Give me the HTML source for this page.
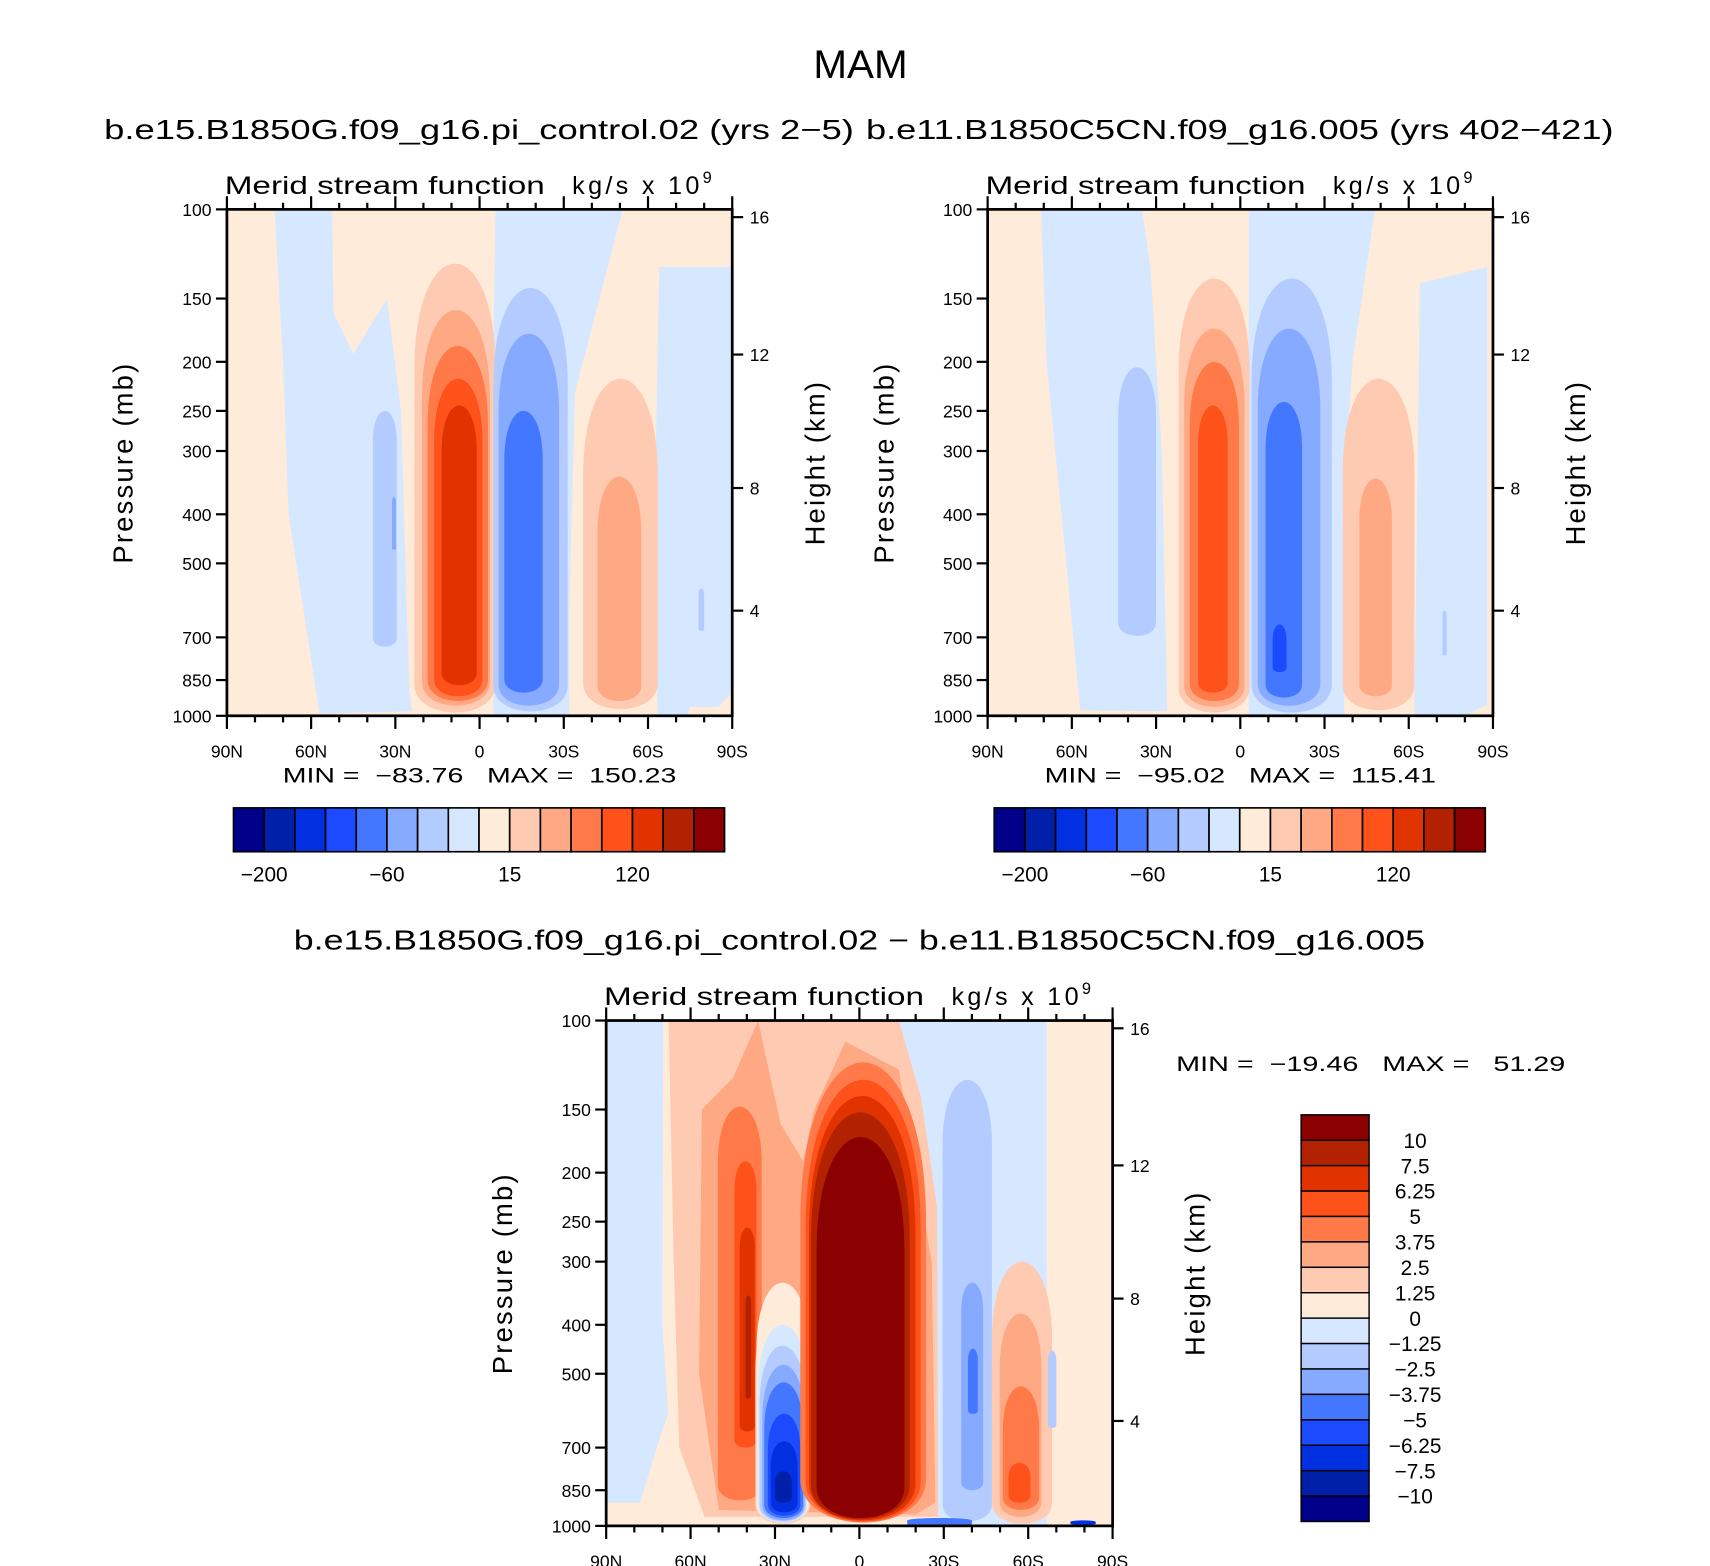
<!DOCTYPE html>
<html><head><meta charset="utf-8"><style>
html,body{margin:0;padding:0;background:#fff;}
svg{display:block;font-family:"Liberation Sans",sans-serif;}
</style></head><body>
<svg id="fig" width="1710" height="1566" viewBox="0 0 1560 1428.6" preserveAspectRatio="none" xmlns="http://www.w3.org/2000/svg">
<rect width="1560" height="1428.6" fill="#fff"/>
<text x="785" y="71" font-size="36" text-anchor="middle" textLength="86" lengthAdjust="spacingAndGlyphs">MAM</text>
<text x="95" y="127" font-size="25" textLength="684" lengthAdjust="spacingAndGlyphs">b.e15.B1850G.f09_g16.pi_control.02 (yrs 2−5)</text>
<text x="790" y="127" font-size="25" textLength="682" lengthAdjust="spacingAndGlyphs">b.e11.B1850C5CN.f09_g16.005 (yrs 402−421)</text>
<text x="268" y="866" font-size="25" textLength="1032" lengthAdjust="spacingAndGlyphs">b.e15.B1850G.f09_g16.pi_control.02 − b.e11.B1850C5CN.f09_g16.005</text>
<g id="panels"></g>
</svg>
<script>
// ---- data ----
const levelColors = ["#00008a","#0020aa","#0030e0","#1c4bff","#4477ff","#85aaff","#b3cbff","#d6e8ff","#ffebd9","#ffcab2","#ffa984","#ff7a48","#ff511a","#e03300","#b32200","#8b0000"];
const pressureTicks = [100,150,200,250,300,400,500,700,850,1000];
const heightTicksKm = [16,12,8,4];
const heightTickP = [103.6,193.5,355,620];
const latTicks = [90,60,30,0,-30,-60,-90];
const latTickLabels = ["90N","60N","30N","0","30S","60S","90S"];
const cbarLabelsTop = ["−200","−60","15","120"];
const cbarLabelIdxTop = [1,5,9,13];
const cbarLabelsDiff = ["10","7.5","6.25","5","3.75","2.5","1.25","0","−1.25","−2.5","−3.75","−5","−6.25","−7.5","−10"];
// regions: [level, [[lat,p],...]]  columns: [level, latL, latR, pTop, pBottom]
const leftBase = 8;
const leftRegions = [
 [7, [[73,100],[52.5,100],[52,160],[45,193],[33,150],[28,250],[25,900],[24,980],[57,990],[68,400],[70,200]]],
 [7, [[-5.7,100],[-51,100],[-34,230],[-32,600],[-32,1000],[-5,1000],[-4,400]]],
 [7, [[-64,130],[-90,130],[-90,900],[-85,960],[-75,960],[-74,1000],[-63.5,1000],[-62,500]]]
];
const leftColumns = [
 [6,38,29.5,250,730],[5,31.2,29.8,370,470],
 [9,23.2,-5.7,128,985],[10,20.5,-3.7,158,955],[11,18.5,-3,186,935],[12,16.2,-1,216,915],[13,13.5,1,244,870],
 [6,-4.9,-31.4,143,980],[5,-6.8,-28.3,176,955],[4,-8.8,-22.5,250,900],
 [9,-36.9,-63.5,216,970],[10,-42,-57.6,337,935],[6,-78,-80,560,680]
];
const rightBase = 8;
const rightRegions = [
 [7, [[71,100],[35,100],[32,130],[28,300],[26,980],[57,975],[62,500],[69,200]]],
 [7, [[-3,100],[-48,100],[-40,200],[-36.5,400],[-37,1000],[-3,1000]]],
 [7, [[-64,140],[-88,130],[-88,950],[-80,1000],[-62,1000]]]
];
const rightColumns = [
 [6,43.5,30,205,695],
 [9,22,-3.3,137,985],[10,20,-1.5,172,960],[11,18,0.5,200,935],[12,15,4.5,244,900],
 [6,-4,-32.6,137,985],[5,-6.2,-28.5,172,955],[4,-9,-22,240,920],[3,-11.5,-16.5,660,820],
 [9,-36.5,-62,216,975],[10,-42.4,-54,340,915],[6,-72,-73.5,620,760]
];
const diffBase = 8;
const diffRegions = [
 [7, [[90,100],[69.7,100],[70,400],[68,600],[72,700],[78,900],[90,900]]],
 [7, [[-14,100],[-66.6,100],[-66.6,1000],[-28,1000],[-27.6,233],[-21.8,141]]],
 [9, [[67.8,100],[-14,100],[-21.8,141],[-27.6,233],[-28,960],[55,960],[64,700],[66,300]]],
 [10,[[56,150],[45,130],[36,100],[28,160],[20,190],[16,150],[5,110],[-14,125],[-25.7,300],[-27,900],[-20,950],[50,930],[57,500]]]
];
const diffColumns = [
 [11,50.3,34.7,148,890],[12,44.4,36.6,190,700],[13,42.5,37.2,257,650],[14,40.5,38.5,350,560],
 [9,37,17.5,360,990],[8,36.6,18,330,985],[7,36,18.5,400,985],[6,35.5,19,440,980],[5,34.5,19.5,480,975],[4,33.8,20,520,965],[3,32.5,21,600,955],[2,31.5,22,680,940],[1,30,24,780,900],
 [11,21,-23.7,121,985],[12,19.1,-21.8,131,980],[13,17.9,-19.9,141,975],[14,17.2,-17.9,152,970],[15,15.2,-16,170,965],
 [6,-29.6,-47.1,131,980],[5,-36.2,-44,330,850],[4,-38.6,-42.1,446,600],
 [9,-47.1,-68.5,300,990],[10,-49.9,-64.7,380,960],[11,-51,-63.9,530,930],[12,-53,-60.8,750,900],
 [6,-67,-70,450,640],[2,-75,-84,975,995],[4,-17,-40,965,998]
];

const svg = document.getElementById('panels');
const NS = "http://www.w3.org/2000/svg";
function el(tag, attrs, parent){const e=document.createElementNS(NS,tag);for(const k in attrs)e.setAttribute(k,attrs[k]);(parent||svg).appendChild(e);return e;}

function drawPanel(name, x0, y0, W, H, base, regions, columns){
  const g = el('g',{});
  
  
  const xS = lat => x0 + W*(90-lat)/180;
  const yS = p => y0 + H*Math.log10(p/100);
  const cp = el('clipPath',{id:name+'-clip'},g);
  el('rect',{x:x0,y:y0,width:W,height:H},cp);
  const field = el('g',{'clip-path':'url(#'+name+'-clip)'},g);
  const bg = el('rect',{x:x0,y:y0,width:W,height:H,fill:levelColors[base]},field);
  
  
  regions.forEach(r=>{
    const d = r[1].map((pt,i)=>(i?'L':'M')+xS(pt[0]).toFixed(1)+','+yS(pt[1]).toFixed(1)).join(' ')+'Z';
    const pa = el('path',{d:d,fill:levelColors[r[0]]},field);
    
    
  });
  columns.forEach(c=>{
    let xl=xS(c[1]), xr=xS(c[2]); if(xl>xr){const t=xl;xl=xr;xr=t;}
    const yt=yS(c[3]), yb=yS(c[4]);
    const w=xr-xl, h=yb-yt;
    const rt=Math.min(w*1.3,h*0.35), rb=Math.min(w*0.35,h*0.2);
    const ym=yt+rt, yn=yb-rb;
    const ct=(yt-ym/4)*4/3, cb=(yb-yn/4)*4/3;
    const d=`M${xl},${yn} L${xl},${ym} C${xl},${ct} ${xr},${ct} ${xr},${ym} L${xr},${yn} C${xr},${cb} ${xl},${cb} ${xl},${yn}Z`;
    const pa = el('path',{d:d,fill:levelColors[c[0]]},field);
    
    
  });
  const fr = el('rect',{x:x0,y:y0,width:W,height:H,fill:'none',stroke:'#000','stroke-width':2.5},g);
  
  
  pressureTicks.forEach(p=>{
    const y=yS(p);
    el('line',{x1:x0-10,x2:x0,y1:y,y2:y,stroke:'#000','stroke-width':2},g);
    const t=el('text',{x:x0-14,y:y+6,'font-size':16,'text-anchor':'end'},g);
    t.textContent=p;
    
    
  });
  heightTickP.forEach((p,i)=>{
    const y=yS(p);
    el('line',{x1:x0+W,x2:x0+W+10,y1:y,y2:y,stroke:'#000','stroke-width':2},g);
    const t=el('text',{x:x0+W+16,y:y+6,'font-size':16},g);
    t.textContent=heightTicksKm[i];
    
    
  });
  for(let lat=90;lat>=-90;lat-=10){
    const x=xS(lat), maj=(lat%30===0);
    const L=maj?12:6;
    el('line',{x1:x,x2:x,y1:y0-L,y2:y0,stroke:'#000','stroke-width':2},g);
    el('line',{x1:x,x2:x,y1:y0+H,y2:y0+H+L,stroke:'#000','stroke-width':2},g);
  }
  latTicks.forEach((lat,i)=>{
    const t=el('text',{x:xS(lat),y:y0+H+38,'font-size':16,'text-anchor':'middle'},g);
    t.textContent=latTickLabels[i];
    
    
  });
  const t1=el('text',{x:x0-2,y:y0-14,'font-size':23,textLength:292,lengthAdjust:'spacingAndGlyphs'},g);
  t1.textContent='Merid stream function';
  
  
  const t2=el('text',{x:x0+315,y:y0-14,'font-size':23,'letter-spacing':3},g);
  t2.innerHTML='kg/s x 10<tspan dy="-10" font-size="15">9</tspan>';
  
  
  const ya=el('text',{transform:`translate(${x0-86},${y0+H/2}) rotate(-90)`,'font-size':25,'text-anchor':'middle','letter-spacing':2},g);
  ya.textContent='Pressure (mb)';
  
  
  const yb2=el('text',{transform:`translate(${x0+W+84},${y0+H/2}) rotate(-90)`,'font-size':25,'text-anchor':'middle','letter-spacing':2},g);
  yb2.textContent='Height (km)';
  
  
  return g;
}
function minmax(x,y,w,txt){
  const t=el('text',{x:x,y:y,'font-size':19,style:'white-space:pre',textLength:w,lengthAdjust:'spacingAndGlyphs'});
  t.textContent=txt;
  
  
}
function hbar(x0,y0){
  const g=el('g',{});
  
  
  const bw=448/16;
  levelColors.forEach((c,i)=>{
    const r=el('rect',{x:x0+i*bw,y:y0,width:bw,height:40,fill:c,stroke:'#000','stroke-width':1.5},g);
    
    
  });
  cbarLabelIdxTop.forEach((k,i)=>{
    const t=el('text',{x:x0+k*bw,y:y0+67,'font-size':19,'text-anchor':'middle'},g);
    t.textContent=cbarLabelsTop[i];
    
    
  });
}
function vbar(x0,y0){
  const g=el('g',{});
  
  
  const bh=371/16;
  levelColors.slice().reverse().forEach((c,i)=>{
    const r=el('rect',{x:x0,y:y0+i*bh,width:62,height:bh,fill:c,stroke:'#000','stroke-width':1.3},g);
    
    
  });
  cbarLabelsDiff.forEach((s,i)=>{
    const t=el('text',{x:x0+104,y:y0+(i+1)*bh+7,'font-size':19,'text-anchor':'middle'},g);
    t.textContent=s;
    
    
  });
}
drawPanel('left-panel',207,191,461,462,leftBase,leftRegions,leftColumns);
drawPanel('right-panel',901,191,461,462,rightBase,rightRegions,rightColumns);
drawPanel('diff-panel',553,931,462,461,diffBase,diffRegions,diffColumns);
minmax(258,714,359,'MIN =  −83.76   MAX =  150.23');
minmax(953,714,357,'MIN =  −95.02   MAX =  115.41');
minmax(1073,977,355,'MIN =  −19.46   MAX =   51.29');
hbar(213,737);
hbar(907,737);
vbar(1187,1017);
</script>
</body></html>
